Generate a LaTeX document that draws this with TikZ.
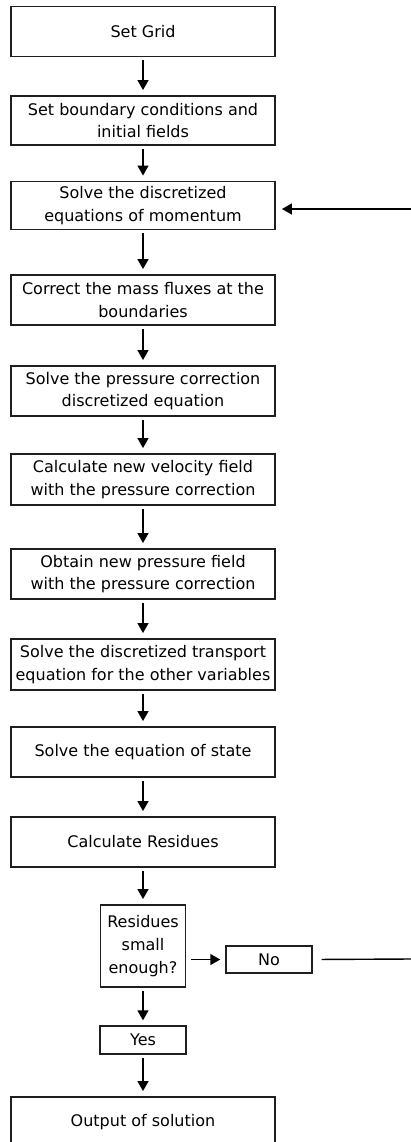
\documentclass[tikz,border=0pt]{standalone}
\usepackage{fontspec}
\setmainfont{DejaVu Sans}
\usetikzlibrary{arrows.meta}
\definecolor{boxline}{rgb}{0.12,0.12,0.12}

\begin{document}
\begin{tikzpicture}[x=1pt,y=-1pt,
  stepbox/.style={draw=boxline,line width=1.9pt,minimum width=264pt,minimum height=50pt,
    align=center,inner sep=0pt,font=\fontsize{16}{22.7}\selectfont},
  smallbox/.style={stepbox,minimum width=86pt,minimum height=28pt,line width=1.4pt},
  flow/.style={line width=1.4pt,-{Triangle[length=10pt,width=11pt]},shorten <=3pt,shorten >=5pt},
  backline/.style={line width=1.4pt}]
\useasboundingbox (0,0) rectangle (411,1142);
\node[stepbox] (grid) at (143,31.5) {Set Grid};
\node[stepbox,minimum height=49pt] (bound) at (143,120.5) {Set boundary conditions and\\initial fields};
\node[stepbox,minimum height=48pt] (moment) at (143,205.5) {Solve the discretized\\equations of momentum};
\node[stepbox] (flux) at (143,300) {Correct the mass fluxes at the\\boundaries};
\node[stepbox] (pcorr) at (143,391) {Solve the pressure correction\\discretized equation};
\node[stepbox,minimum height=51pt] (veloc) at (143,479.5) {Calculate new velocity field\\with the pressure correction};
\node[stepbox] (press) at (143,574) {Obtain new pressure field\\with the pressure correction};
\node[stepbox,minimum height=51pt] (transp) at (143,664.5) {Solve the discretized transport\\equation for the other variables};
\node[stepbox] (state) at (143,752) {Solve the equation of state};
\node[stepbox] (resid) at (143,842) {Calculate Residues};
\node[stepbox,minimum width=85pt,minimum height=82pt] (check) at (143,946) {Residues\\small\\enough?};
\node[smallbox,minimum height=27pt] (no) at (269,959.5) {No};
\node[smallbox] (yes) at (143,1040) {Yes};
\node[stepbox] (output) at (143,1122) {Output of solution};
\coordinate (backtop) at (411,209);
\coordinate (backbot) at (411,959);
\draw[flow] (grid) -- (bound);
\draw[flow] (bound) -- (moment);
\draw[flow] (moment) -- (flux);
\draw[flow] (flux) -- (pcorr);
\draw[flow] (pcorr) -- (veloc);
\draw[flow] (veloc) -- (press);
\draw[flow] (press) -- (transp);
\draw[flow] (transp) -- (state);
\draw[flow] (state) -- (resid);
\draw[flow] (resid) -- (check);
\draw[flow] (check) -- (yes);
\draw[flow] (yes) -- (output);
\draw[flow,shorten <=5pt] (check.east |- no.west) -- (no.west);
\draw[backline,shorten <=9pt] (no.east) -- (backbot);
\draw[flow,shorten <=0pt,shorten >=6pt] (backtop) -- (moment.east |- backtop);
\end{tikzpicture}
\end{document}
